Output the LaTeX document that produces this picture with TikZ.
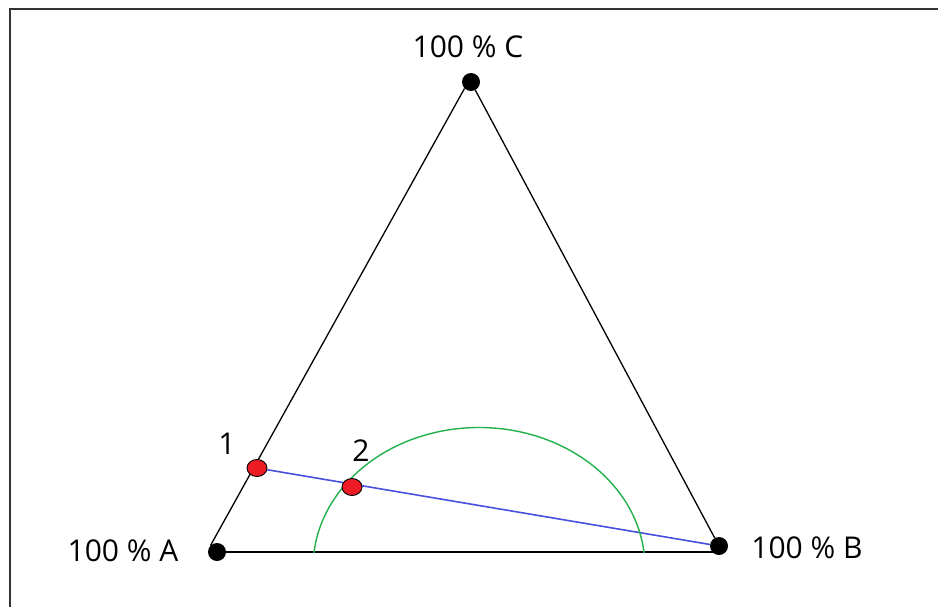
\documentclass[tikz,border=0pt]{standalone}
\usepackage{fontspec}
\setmainfont{Open Sans}
\usepackage{xcolor}
\usetikzlibrary{shapes.geometric, backgrounds}
\definecolor{paintred}{RGB}{237,28,36}
\definecolor{paintgreen}{RGB}{34,177,76}
\definecolor{paintblue}{RGB}{72,80,224}

\begin{document}
\begin{tikzpicture}[
    x=1pt, y=-1pt,
    corner/.style={circle, fill=black, inner sep=0pt, minimum size=18pt},
    mix/.style={ellipse, draw=black, fill=paintred, line width=0.9pt, inner sep=0pt, minimum width=20pt, minimum height=17pt},
    lbl/.style={inner sep=0pt, text=black, font=\fontsize{30}{36}\selectfont},
    side/.style={black, line width=1.3pt},
    tie/.style={paintblue, line width=1.6pt},
    frame/.style={black!80, line width=2pt}
]
\useasboundingbox (0,0) rectangle (938,606);
\draw[frame] (10,608) -- (10,9) -- (940,9);

\node[corner] (pA) at (217,552) {};
\node[corner] (pB) at (719,546) {};
\node[corner] (pC) at (471,82) {};
\node[mix] (mix1) at (257,468) {};
\node[mix] (mix2) at (352,487) {};

\node[lbl] (labA) at (123,551) {100 \% A};
\node[lbl] (labB) at (807,548) {100 \% B};
\node[lbl] (labC) at (468,47) {100 \% C};
\node[lbl] (lab1) at (227,444) {1};
\node[lbl] (lab2) at (361,451) {2};

\coordinate (arcc) at (479,567.5);
\begin{pgfonlayer}{background}
\draw[side] (pA.north west) -- (pC.south west);
\draw[side] (pC) -- (pB);
\draw[side] (pA) -- (pA -| pB);
\draw[tie] (mix1) -- (pB);
\draw[paintgreen, line width=1.4pt] ([shift={(5.95:166pt and 140pt)}]arcc)
    arc[start angle=5.95, end angle=174.05, x radius=166pt, y radius=140pt];
\end{pgfonlayer}
\end{tikzpicture}
\end{document}
